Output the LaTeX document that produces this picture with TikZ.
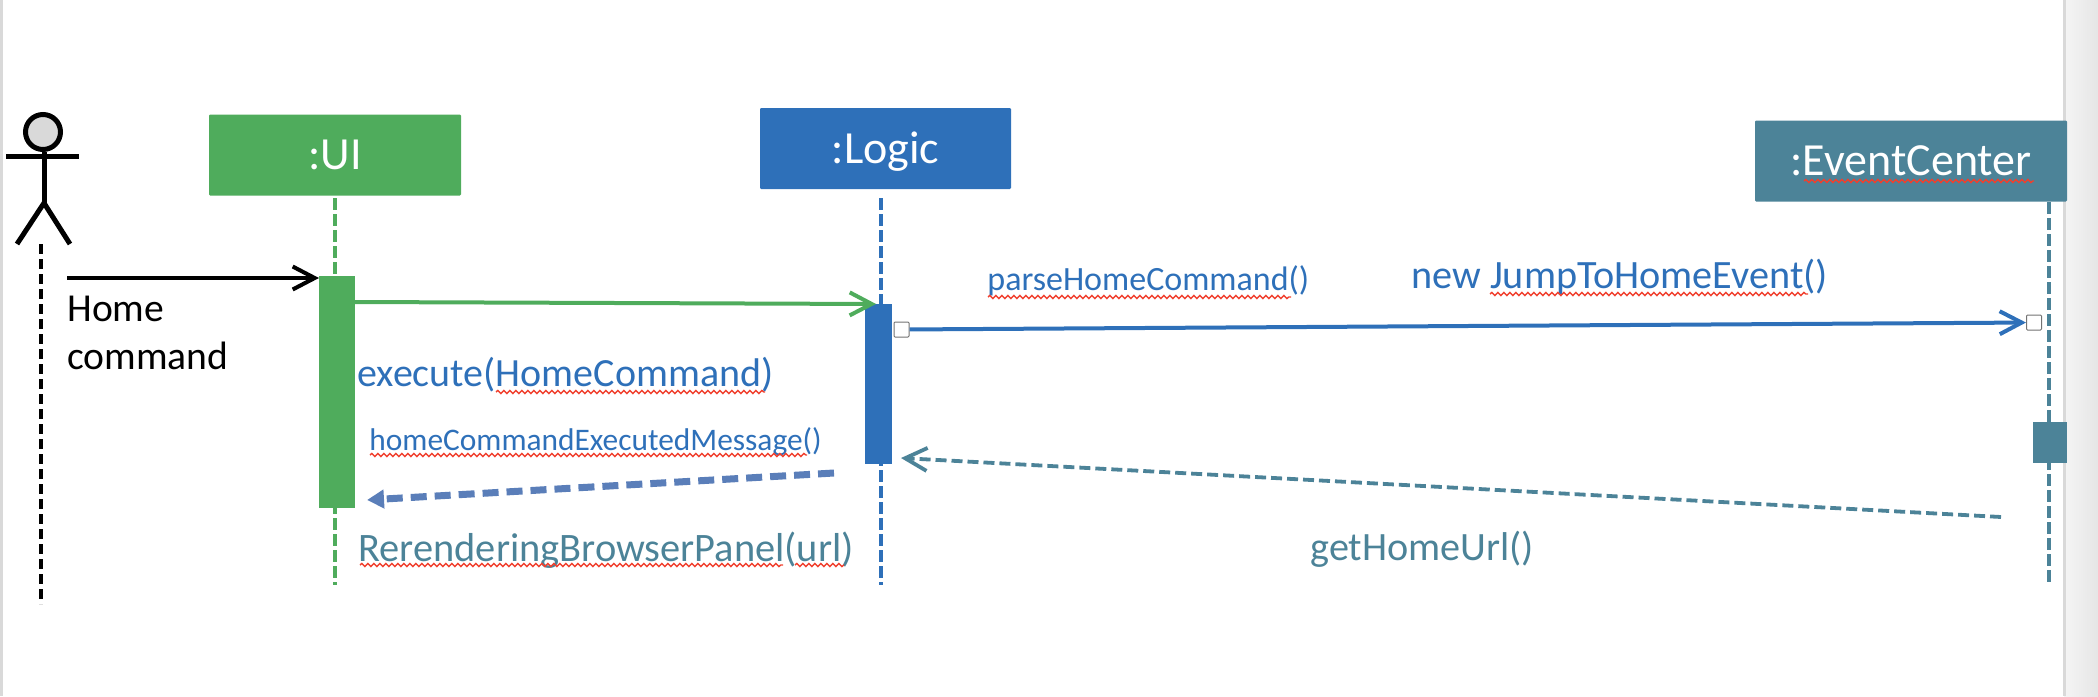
\documentclass[tikz,border=0pt]{standalone}
\usepackage{fontspec}
\setmainfont{Carlito}
\usepackage{xcolor}
\usetikzlibrary{arrows.meta, positioning, calc, decorations.pathmorphing}
\definecolor{uigreen}{HTML}{4FAC5C}
\definecolor{logicblue}{HTML}{2E70B9}
\definecolor{eventteal}{HTML}{4C8398}
\definecolor{returnblue}{HTML}{5A7EB9}
\definecolor{squigred}{HTML}{F0402E}
\tikzset{
    headbox/.style={
        rectangle,
        rounded corners=0.6pt,
        minimum width=#1,
        minimum height=40.5pt,
        inner sep=0pt,
        text=white,
        font=\fontsize{23}{27}\selectfont,
    },
    activation/.style={
        rectangle,
        inner sep=0pt,
        anchor=north west,
    },
    socket/.style={
        rectangle,
        rounded corners=0.5pt,
        draw=black!55,
        line width=0.5pt,
        fill=white,
        inner sep=0pt,
        minimum width=7.5pt,
        minimum height=7.5pt,
    },
    lifeline/.style={
        line width=1.9pt,
        dash pattern=on 6pt off 2pt,
    },
    message/.style={
        anchor=base west,
        inner sep=0pt,
        font=\fontsize{#1}{#1}\selectfont,
    },
    openarrow/.style={
        -{Straight Barb[length=11pt,width=11.5pt]},
        line width=2pt,
    },
    squiggle/.style={
        draw=squigred,
        line width=0.7pt,
        decorate,
        decoration={snake,segment length=3pt,amplitude=0.8pt},
    },
}

\begin{document}
\begin{tikzpicture}[x=0.5pt,y=-0.5pt]
          \useasboundingbox (0,0) rectangle (2098,696);

          % page edges of the screenshot
          \fill[black!15] (0,0) rectangle (3,696);
          \shade[left color=black!4, right color=black!10] (2064,0) rectangle (2098,696);
          \fill[black!15] (2063,0) rectangle (2066,696);

          % actor
          \node [circle, draw=black, line width=2.5pt, fill=black!15, minimum size=17.5pt, inner sep=0pt] (head) at (43,132) {};
          \coordinate (arm-l) at (6,156.5);
          \coordinate (arm-r) at (79,156.5);
          \coordinate (hip) at (44,203);
          \coordinate (foot-l) at (17,244);
          \coordinate (foot-r) at (70,244);
          \coordinate (actor-top) at (41,244);
          \coordinate (actor-end) at (41,604);
          \draw[line width=2.5pt] (arm-l) -- (arm-r);
          \draw[line width=2.5pt] (head.south -| hip) -- (hip);
          \draw[line width=2.5pt] (foot-l) -- (hip) -- (foot-r);
          \draw[lifeline, dash pattern=on 5pt off 2.5pt, line width=2pt] (actor-top) -- (actor-end);

          % heads
          \node [headbox=126pt, fill=uigreen] (UI) at (335,155) {:UI};
          \node [headbox=125.5pt, fill=logicblue, text height=19pt, text depth=4pt] (Logic) at (885.5,148.5) {:Logic};
          \node [headbox=156pt, fill=eventteal] (Event) at (1911,161) {:EventCenter};

          % lifelines
          \coordinate (UI-top) at (335,198);
          \coordinate (UI-end) at (335,585);
          \coordinate (Logic-top) at (881,198);
          \coordinate (Logic-end) at (881,585);
          \coordinate (Event-top) at (2049,202);
          \coordinate (Event-end) at (2049,582);
          \draw[lifeline, uigreen] (UI-top) -- (UI-end);
          \draw[lifeline, logicblue] (Logic-top) -- (Logic-end);
          \draw[lifeline, eventteal] (Event-top) -- (Event-end);

          % activation bars
          \node [activation, fill=uigreen, minimum width=18pt, minimum height=116pt] (UI-bar) at (319,276) {};
          \node [activation, fill=logicblue, minimum width=13.5pt, minimum height=80pt] (Logic-bar) at (865,304) {};
          \node [activation, fill=eventteal, minimum width=17pt, minimum height=20.5pt] (Event-bar) at (2033,422) {};

          \node [socket] (send) at (901.5,329.5) {};
          \node [socket] (recv) at (2034,322.5) {};

          % messages
          \coordinate (home-start) at (67,278);
          \coordinate (home-end) at (319,278);
          \coordinate (exec-start) at (355,302);
          \coordinate (exec-end) at (876,304);
          \coordinate (url-start) at (2001,517);
          \coordinate (url-end) at (901,458);
          \coordinate (done-start) at (834,473);
          \coordinate (done-end) at (367,500);
          \draw[openarrow] (home-start) -- (home-end);
          \draw[openarrow, uigreen] (exec-start) -- (exec-end);
          \draw[openarrow, logicblue] (send) -- (recv);
          \draw[openarrow, eventteal, line width=1.9pt, dash pattern=on 5.5pt off 2.5pt] (url-start) -- (url-end);
          \draw[-{Triangle[length=8.5pt,width=9pt]}, returnblue, line width=3.5pt, dash pattern=on 8pt off 4pt] (done-start) -- (done-end);

          % labels
          \node [anchor=base west, inner sep=0pt, align=left, font=\fontsize{19.8}{24}\selectfont] (homecmd) at (67,369) {Home\\command};
          \node [message=20, text=logicblue] (execlabel) at (357,386) {execute(HomeCommand)};
          \node [message=15.7, text=logicblue] (donelabel) at (369,450) {homeCommandExecutedMessage()};
          \node [message=20.2, text=eventteal] (renderlabel) at (358,561) {RerenderingBrowserPanel(url)};
          \node [message=17, text=logicblue] (parselabel) at (987,290) {parseHomeCommand()};
          \node [message=20.1, text=logicblue] (newlabel) at (1411,288) {new JumpToHomeEvent()};
          \node [message=20.1, text=eventteal] (urllabel) at (1310,560) {getHomeUrl()};

          % spell checker marks
          \draw[squiggle] (496,392) -- (765,392);
          \draw[squiggle] (370,455) -- (807,455);
          \draw[squiggle] (360,565) -- (783,565);
          \draw[squiggle] (795,565) -- (844,565);
          \draw[squiggle] (988,297) -- (1291,297);
          \draw[squiggle] (1490,294) -- (1808,294);
          \draw[squiggle] (1804,181) -- (2034,181);
        \end{tikzpicture}
\end{document}
